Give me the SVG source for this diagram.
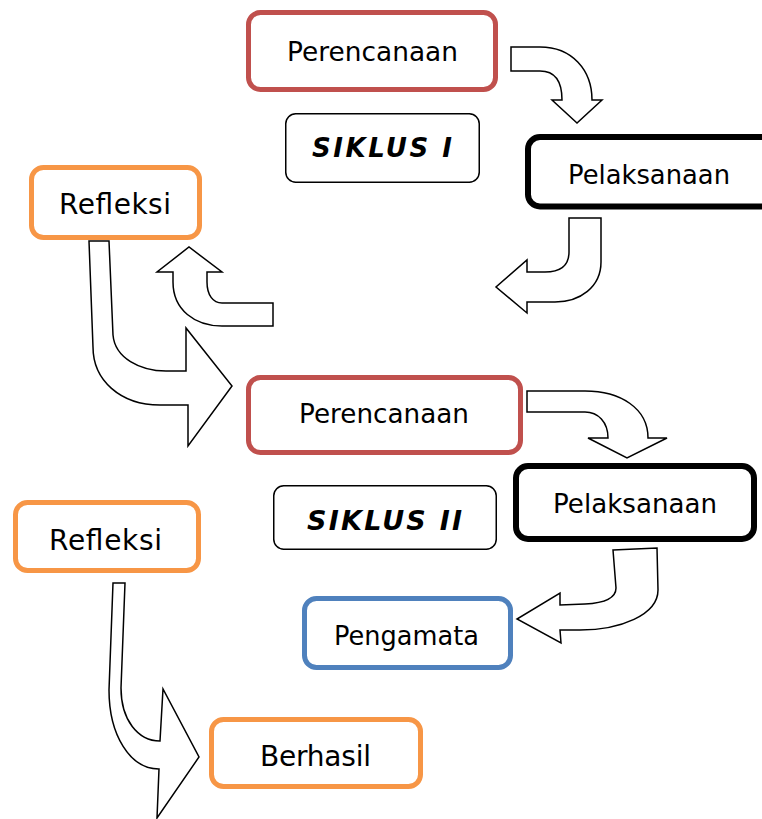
<svg xmlns="http://www.w3.org/2000/svg" width="762" height="819" viewBox="0 0 762 819">
<style>
.bx{fill:#fff;stroke-width:5}
.red{stroke:#C0504D}
.org{stroke:#F79646}
.blu{stroke:#4F81BD}
.blk{fill:#fff;stroke:#000;stroke-width:6}
.thin{fill:#fff;stroke:#000;stroke-width:1.5}
.t{font-family:"DejaVu Sans","Liberation Sans",sans-serif;font-size:26.5px;fill:#000}
.s{font-family:"DejaVu Sans","Liberation Sans",sans-serif;font-size:26px;font-weight:bold;font-style:italic;fill:#000}
.ar{fill:#fff;stroke:#000;stroke-width:1.5;stroke-linejoin:miter}
</style>
<rect width="762" height="819" fill="#fff"/>
<g id="connectors">
<path class="ar" d="M511,47 L540,47 C572,47 592,70 592,100 L602,100 L577,123 L552,100 L562,100 C562,82 555,71 540,71 L511,71 Z"/>
<path class="ar" d="M569,218 L601,218 L601,262 C601,287 580,302 555,302 L527,302 L527,313 L496,287 L527,260 L527,272 L545,272 C560,272 569,266 569,252 Z"/>
<path class="ar" d="M273,303 L222,303 C213,303 207,295 207,282 L207,272 L222,272 L189,247 L157,272 L173,272 L173,282 C173,310 195,326 222,326 L273,326 Z"/>
<path class="ar" d="M89,241 L109,241 L113,335 C115,358 140,371 166,371 L186,371 L186,328 L232,386 L188,446 L188,405 L160,405 C120,405 93,380 93,347 Z"/>
<path class="ar" d="M527,391 L585,391 C620,391 648,408 648,438 L667,438 L627,458 L588,438 L608,438 C608,422 598,412 585,412 L527,412 Z"/>
<path class="ar" d="M613,550 L657,548 L658,590 C658,615 620,630 580,630 L560,630 L561,643 L517,619 L560,593 L560,605 L585,604 C605,603 616,598 616,588 Z"/>
<path class="ar" d="M113,583 L125,583 L121,688 C121,720 138,741 160,741 L163,689 L199,757 L157,818 L159,769 C130,769 109,735 109,690 Z"/>
</g>
<g id="perencanaan1">
<rect class="bx red" x="248.5" y="12.5" width="247" height="77" rx="12"/>
<text class="t" x="287" y="61" textLength="171" lengthAdjust="spacingAndGlyphs">Perencanaan</text>
</g>
<g id="siklus1">
<rect class="thin" x="285.75" y="113.75" width="193.5" height="68.5" rx="10"/>
<text class="s" x="312" y="157" textLength="140" lengthAdjust="spacing">SIKLUS I</text>
</g>
<g id="pelaksanaan1">
<rect class="blk" x="528" y="137" width="250" height="69.5" rx="12"/>
<text class="t" x="568" y="184" textLength="162" lengthAdjust="spacingAndGlyphs">Pelaksanaan</text>
</g>
<g id="refleksi1">
<rect class="bx org" x="31.5" y="167.5" width="168" height="70" rx="12"/>
<text class="t" x="59" y="214" style="font-size:28px" textLength="112" lengthAdjust="spacing">Refleksi</text>
</g>
<g id="perencanaan2">
<rect class="bx red" x="248.5" y="377.5" width="272" height="75" rx="12"/>
<text class="t" x="299" y="423" textLength="170" lengthAdjust="spacingAndGlyphs">Perencanaan</text>
</g>
<g id="pelaksanaan2">
<rect class="blk" x="516" y="466" width="238" height="73" rx="12"/>
<text class="t" x="553" y="513" textLength="164" lengthAdjust="spacingAndGlyphs">Pelaksanaan</text>
</g>
<g id="siklus2">
<rect class="thin" x="273.75" y="485.75" width="222.5" height="63.5" rx="10"/>
<text class="s" x="307" y="530" style="font-size:27px" textLength="155" lengthAdjust="spacing">SIKLUS II</text>
</g>
<g id="pengamata">
<rect class="bx blu" x="304.5" y="598.5" width="206" height="69" rx="12"/>
<text class="t" x="334" y="645" style="font-size:27px" textLength="145" lengthAdjust="spacingAndGlyphs">Pengamata</text>
</g>
<g id="refleksi2">
<rect class="bx org" x="15.5" y="502.5" width="183" height="68" rx="12"/>
<text class="t" x="49" y="550" style="font-size:28px" textLength="113" lengthAdjust="spacing">Refleksi</text>
</g>
<g id="berhasil">
<rect class="bx org" x="211.5" y="719.5" width="209" height="67" rx="12"/>
<text class="t" x="260" y="766" style="font-size:28px" textLength="111" lengthAdjust="spacing">Berhasil</text>
</g>
</svg>
